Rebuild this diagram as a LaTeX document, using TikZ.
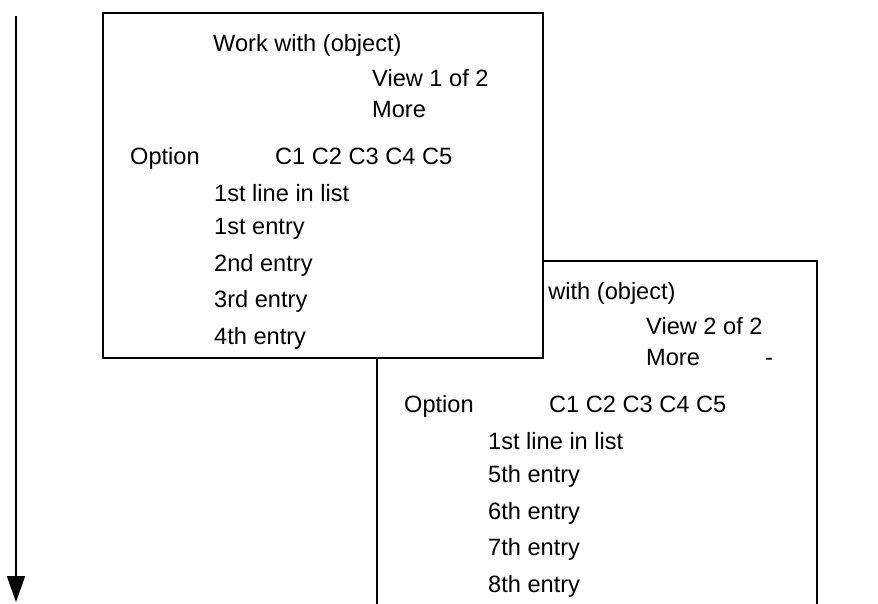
\documentclass[tikz,border=0pt]{standalone}
\usepackage{fontspec}
\setmainfont{Liberation Sans}
\usetikzlibrary{arrows.meta}
\begin{document}
\begin{tikzpicture}[x=1pt,y=-1pt,
  txt/.style={anchor=base west, inner sep=0pt, font=\fontsize{23.6}{27}\selectfont},
  frame/.style={draw=black, line width=2pt, fill=white, anchor=north west, inner sep=0pt, minimum width=440pt},
  flow/.style={line width=2pt, -{Triangle[width=18pt,length=26pt]}}]
\useasboundingbox (0,0) rectangle (878,603);
% time arrow
\coordinate (a0) at (16,16);
\coordinate (a1) at (16,602);
\draw[flow] (a0) -- (a1);
% second view (behind)
\node[frame, minimum height=380pt] (box2) at (376,260) {};
\begin{scope}[shift={(274,248)}]
\node[txt] (t2a) at (213,51) {Work with (object)};
\node[txt] (t2b) at (372,86) {View 2 of 2};
\node[txt] (t2c) at (372,117) {More};
\node[txt] (t2d) at (491,117) {-};
\node[txt] (t2e) at (130,164) {Option};
\node[txt] (t2f) at (275,164) {C1 C2 C3 C4 C5};
\node[txt] (t2g) at (214,201) {1st line in list};
\node[txt] (t2h) at (214,234) {5th entry};
\node[txt] (t2i) at (214,271) {6th entry};
\node[txt] (t2j) at (214,307) {7th entry};
\node[txt] (t2k) at (214,344) {8th entry};
\end{scope}
% first view (front)
\node[frame, minimum height=345pt] (box1) at (102,12) {};
\node[txt] (t1a) at (213,51) {Work with (object)};
\node[txt] (t1b) at (372,86) {View 1 of 2};
\node[txt] (t1c) at (372,117) {More};
\node[txt] (t1e) at (130,164) {Option};
\node[txt] (t1f) at (275,164) {C1 C2 C3 C4 C5};
\node[txt] (t1g) at (214,201) {1st line in list};
\node[txt] (t1h) at (214,234) {1st entry};
\node[txt] (t1i) at (214,271) {2nd entry};
\node[txt] (t1j) at (214,307) {3rd entry};
\node[txt] (t1k) at (214,344) {4th entry};
\end{tikzpicture}
\end{document}
